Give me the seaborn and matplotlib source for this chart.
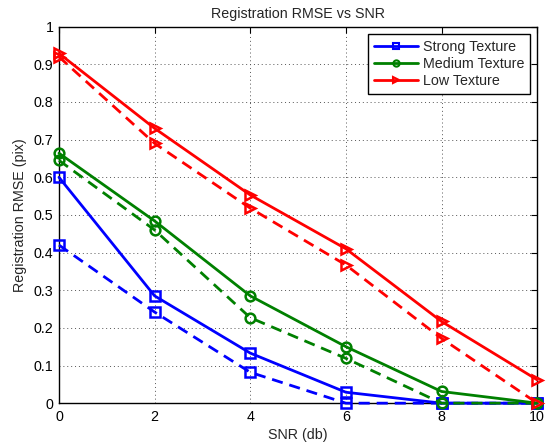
import matplotlib
matplotlib.use("Agg")
import matplotlib.pyplot as plt
import seaborn as sns
import pandas as pd

snr = [0, 2, 4, 6, 8, 10]
strong_solid = [0.600, 0.285, 0.133, 0.029, 0.0, 0.0]
strong_dashed = [0.420, 0.242, 0.082, 0.0, 0.0, 0.0]
medium_solid = [0.664, 0.484, 0.285, 0.150, 0.031, 0.0]
medium_dashed = [0.645, 0.460, 0.227, 0.119, 0.0, 0.0]
low_solid = [0.929, 0.730, 0.553, 0.410, 0.217, 0.062]
low_dashed = [0.920, 0.690, 0.518, 0.367, 0.172, 0.0]

labels = ["Strong Texture", "Medium Texture", "Low Texture"]
colors = ["#0000ff", "#008000", "#ff0000"]
markers = ["s", "o", ">"]

FS = 10.3

sns.set_style("white")
plt.rcParams['font.family'] = ['Liberation Sans', 'DejaVu Sans']
plt.rcParams['font.size'] = FS

fig = plt.figure(figsize=(5.51, 4.45), dpi=100)
ax = fig.add_axes([0.107, 0.094, 0.868, 0.846])

series = [(strong_solid, strong_dashed), (medium_solid, medium_dashed), (low_solid, low_dashed)]
for (solid, dashed), lab, c, m in zip(series, labels, colors, markers):
    df_s = pd.DataFrame({"snr": snr, "rmse": solid})
    df_d = pd.DataFrame({"snr": snr, "rmse": dashed})
    sns.lineplot(data=df_s, x="snr", y="rmse", ax=ax, color=c, lw=2, marker=m,
                 markersize=7, markerfacecolor="none", markeredgecolor=c,
                 markeredgewidth=1.8, label=lab, clip_on=False, zorder=3)
    sns.lineplot(data=df_d, x="snr", y="rmse", ax=ax, color=c, lw=2, marker=m,
                 markersize=7, markerfacecolor="none", markeredgecolor=c,
                 markeredgewidth=1.8, linestyle=(0, (4, 2.5)), label="_nolegend_",
                 clip_on=False, zorder=3)

ax.set_xlim(0, 10)
ax.set_ylim(0, 1)
ax.set_xticks([0, 2, 4, 6, 8, 10])
ax.set_yticks([0, 0.1, 0.2, 0.3, 0.4, 0.5, 0.6, 0.7, 0.8, 0.9, 1])
ax.set_yticklabels(["0", "0.1", "0.2", "0.3", "0.4", "0.5", "0.6", "0.7", "0.8", "0.9", "1"])
ax.grid(True, linestyle=(0, (1, 3)), color="#555555", linewidth=0.7)
ax.tick_params(direction="in", length=4, width=0.8, top=True, right=True,
               labelsize=FS, colors="black")
ax.tick_params(axis="x", pad=5)
ax.tick_params(axis="y", pad=4)
for s in ax.spines.values():
    s.set_color("black")
    s.set_linewidth(1.0)
ax.set_xlabel("SNR (db)", fontsize=FS, labelpad=3)
ax.set_ylabel("Registration RMSE (pix)", fontsize=FS, labelpad=5)
ax.set_title("Registration RMSE vs SNR", fontsize=FS, pad=6)

leg = ax.legend(loc="upper right", frameon=True, fancybox=False, fontsize=FS,
                handlelength=3.05, borderpad=0.42, labelspacing=0.2,
                handletextpad=0.35, borderaxespad=0.5)
leg.get_frame().set_edgecolor("black")
leg.get_frame().set_linewidth(1.0)
leg.get_frame().set_alpha(1)
for h in leg.legend_handles:
    h.set_markersize(4.5)
    h.set_markeredgewidth(1.5)

fig.savefig("out.png", dpi=100)
